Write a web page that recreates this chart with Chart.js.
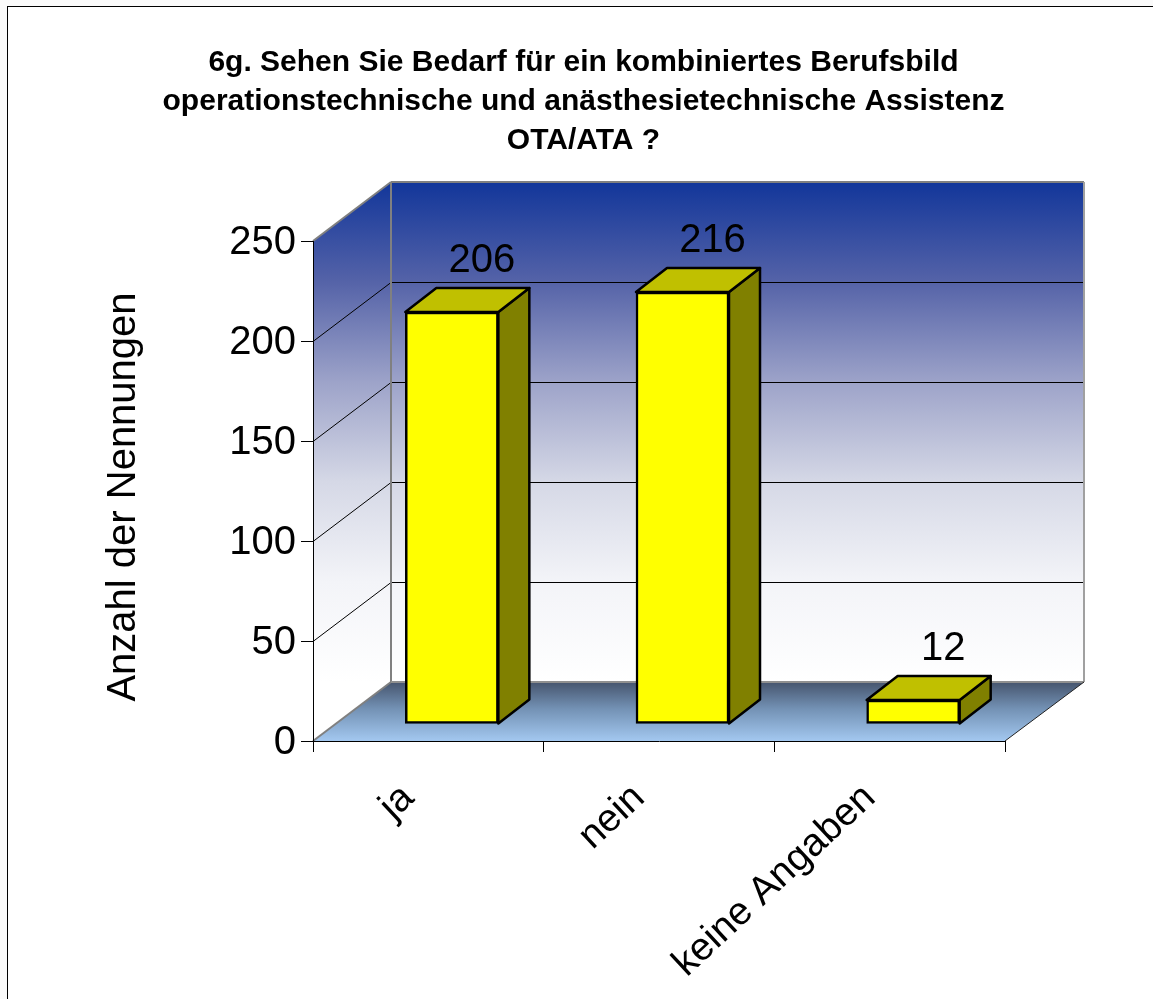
<!DOCTYPE html>
<html>
<head>
<meta charset="utf-8">
<script src="https://cdn.jsdelivr.net/npm/chart.js@4"></script>
<style>
html,body{margin:0;padding:0;width:1153px;height:999px;overflow:hidden;background:#fafafa}
#frame{position:absolute;left:7px;top:6px;width:1146px;height:993px;background:#fff;border-left:1px solid #000;border-top:1px solid #000;box-sizing:border-box}
#c{position:absolute;left:7px;top:6px}
</style>
</head>
<body>
<div id="frame"></div>
<canvas id="c" width="1153" height="999"></canvas>
<script>
const categories = ["ja", "nein", "keine Angaben"];
const values = [206, 216, 12];
const titleLines = ["6g. Sehen Sie Bedarf für ein kombiniertes Berufsbild",
  "operationstechnische und anästhesietechnische Assistenz", "OTA/ATA ?"];
const yAxisTitle = "Anzahl der Nennungen";
const yMax = 250, yStep = 50;

const FONT = '"Liberation Sans", Arial, sans-serif';
const WALL = {x: 78, y: -59};   // depth of the chart box
const BAR_SHIFT = {x: 23.5, y: -17}; // bar position inside the box
const BAR_DEPTH = {x: 31, y: -24};

function poly(ctx, pts, fill, stroke, lw) {
  ctx.beginPath();
  pts.forEach((p, i) => i ? ctx.lineTo(p[0], p[1]) : ctx.moveTo(p[0], p[1]));
  ctx.closePath();
  if (fill) { ctx.fillStyle = fill; ctx.fill(); }
  if (stroke) { ctx.strokeStyle = stroke; ctx.lineWidth = lw; ctx.lineJoin = 'round'; ctx.stroke(); }
}
function seg(ctx, a, b, c, lw) {
  ctx.beginPath(); ctx.moveTo(a[0], a[1]); ctx.lineTo(b[0], b[1]);
  ctx.strokeStyle = c; ctx.lineWidth = lw; ctx.stroke();
}

const box3d = {
  id: 'box3d',
  afterLayout(chart) {
    // the title is centred on the whole canvas, not on the plot side of the padding
    chart.titleBlock.left = 0;
    chart.titleBlock.right = chart.width;
  },
  beforeDatasetsDraw(chart) {
    const {ctx, chartArea: a, scales: {y}} = chart;
    const L = a.left, R = a.right, T = a.top, B = a.bottom, dx = WALL.x, dy = WALL.y;
    ctx.save();
    const g = ctx.createLinearGradient(0, T + dy, 0, B + dy);
    g.addColorStop(0, '#12369a');
    g.addColorStop(0.2, '#5563a8');
    g.addColorStop(0.4, '#9da3c9');
    g.addColorStop(0.6, '#d5d8e6');
    g.addColorStop(0.8, '#f3f4f8');
    g.addColorStop(1, '#ffffff');
    poly(ctx, [[L + dx, T + dy], [R + dx + 1, T + dy], [R + dx + 1, B + dy], [L + dx, B + dy]], g);
    poly(ctx, [[L, T], [L + dx, T + dy], [L + dx, B + dy], [L, B]], g);
    const f = ctx.createLinearGradient(0, B + dy, 0, B);
    f.addColorStop(0, '#46556e');
    f.addColorStop(0.45, '#7391b4');
    f.addColorStop(1, '#a3c8f0');
    poly(ctx, [[L, B], [R, B], [R + dx + 1, B + dy], [L + dx, B + dy]], f);
    y.ticks.forEach(t => {
      if (t.value === 0 || t.value === yMax) return;
      const py = Math.round(y.getPixelForValue(t.value));
      seg(ctx, [L, py + 0.5], [L + dx, py + dy + 0.5], '#000', 1);
      seg(ctx, [L + dx, py + dy + 0.5], [R + dx + 1, py + dy + 0.5], '#000', 1);
    });
    seg(ctx, [L, T], [L + dx, T + dy], '#808080', 2);
    seg(ctx, [L, B], [L + dx, B + dy], '#808080', 2);
    seg(ctx, [L + dx, T + dy], [R + dx + 1, T + dy], '#808080', 2);
    seg(ctx, [L + dx, T + dy], [L + dx, B + dy], '#808080', 2);
    seg(ctx, [R + dx + 1, T + dy], [R + dx + 1, B + dy], '#a0a0a0', 2);
    seg(ctx, [L + dx, B + dy], [R + dx + 1, B + dy], '#909090', 2);
    seg(ctx, [R, B], [R + dx + 1, B + dy], '#222', 1);

    // side and top faces of the bars, read from the bar elements
    ctx.translate(BAR_SHIFT.x, BAR_SHIFT.y);
    const d = BAR_DEPTH;
    chart.getDatasetMeta(0).data.forEach(bar => {
      const l = bar.x - bar.width / 2, r = bar.x + bar.width / 2, t = bar.y, b = bar.base;
      poly(ctx, [[r, t], [r + d.x, t + d.y], [r + d.x, b + d.y], [r, b]], '#808000', '#000', 2.5);
      poly(ctx, [[l, t], [l + d.x, t + d.y], [r + d.x, t + d.y], [r, t]], '#c0c000', '#000', 2.5);
    });
  },
  afterDatasetsDraw(chart) {
    const {ctx} = chart;
    ctx.restore();
    ctx.save();
    ctx.fillStyle = '#000';
    ctx.font = '40px ' + FONT;
    ctx.textAlign = 'center';
    ctx.textBaseline = 'alphabetic';
    chart.getDatasetMeta(0).data.forEach((bar, i) => {
      ctx.fillText(String(values[i]), bar.x + BAR_SHIFT.x + 30, bar.y + BAR_SHIFT.y - 40);
    });
    ctx.restore();
  }
};

new Chart(document.getElementById('c'), {
  type: 'bar',
  data: {
    labels: categories,
    datasets: [{
      data: values,
      backgroundColor: '#ffff00',
      borderColor: '#000',
      borderWidth: 2.5,
      borderSkipped: false,
      barThickness: 93,
      clip: false
    }]
  },
  plugins: [box3d],
  options: {
    responsive: false,
    animation: false,
    devicePixelRatio: 1,
    layout: {padding: {left: 0, right: 155, top: 0, bottom: 0}},
    plugins: {
      legend: {display: false},
      tooltip: {enabled: false},
      title: {
        display: true,
        text: titleLines,
        color: '#000',
        font: {family: FONT, size: 30, weight: 'bold', lineHeight: 39 / 30},
        padding: {top: 37.5, bottom: 80.5}
      }
    },
    scales: {
      x: {
        afterFit(s) { s.height = 264; },
        grid: {display: true, drawOnChartArea: false, drawTicks: true, tickLength: 11, color: '#000', offset: true},
        border: {display: true, color: '#000', width: 1, z: 1},
        ticks: {
          color: '#000', autoSkip: false, maxRotation: 43, minRotation: 43,
          padding: 23, labelOffset: -20,
          font: {family: FONT, size: 39}
        }
      },
      y: {
        min: 0, max: yMax,
        afterFit(s) {
          s.width = 306;
          if (!s._shifted) {
            s._shifted = true;
            const orig = s.drawTitle.bind(s);
            s.drawTitle = function () {
              s.ctx.save(); s.ctx.translate(0, 6); orig(); s.ctx.restore();
            };
          }
        },
        grid: {display: true, drawOnChartArea: false, drawTicks: true, tickLength: 12, color: '#000'},
        border: {display: true, color: '#000', width: 1, z: 1},
        ticks: {stepSize: yStep, color: '#000', padding: 5, labelOffset: 2, font: {family: FONT, size: 40}},
        title: {
          display: true, text: yAxisTitle, color: '#000',
          font: {family: FONT, size: 40},
          padding: {top: 93, bottom: 0}
        }
      }
    }
  }
});
</script>
</body>
</html>
